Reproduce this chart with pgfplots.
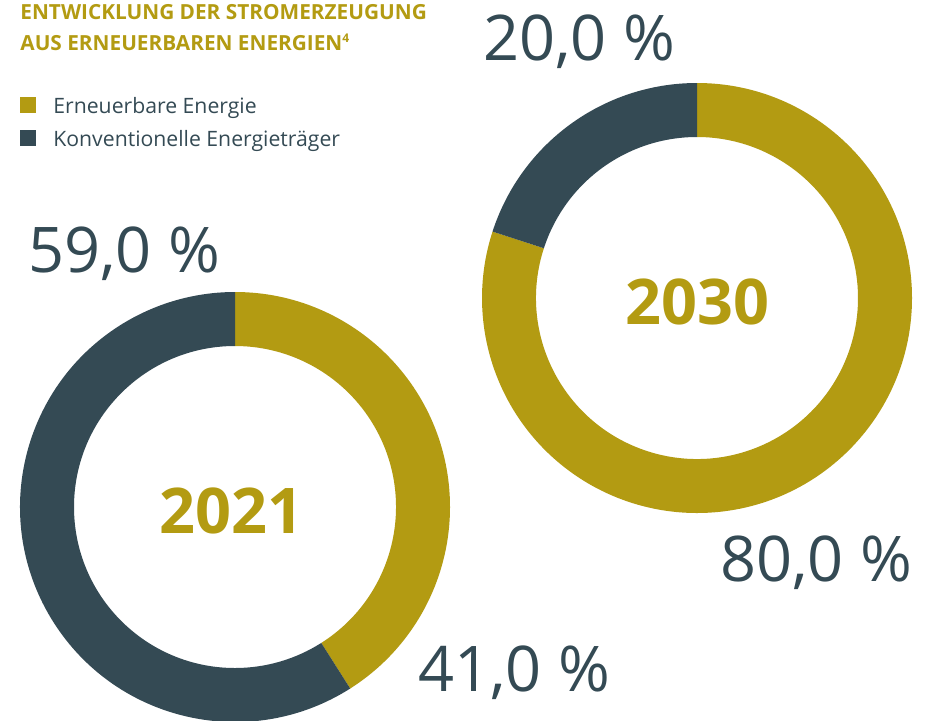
\documentclass[border=0pt]{standalone}
\usepackage{pgfplots}
\pgfplotsset{compat=1.18}
\usepackage{pgfplotstable}
\usepackage{fontspec}
\setmainfont{Open Sans}
\usetikzlibrary{calc}
\definecolor{gold}{HTML}{B39B12}
\definecolor{slate}{HTML}{344A54}

\pgfplotstableread{
year cx cy renew conv
2021 235 213 41 59
2030 697 422 80 20
}\donuts

\pgfplotstablegetelem{0}{cx}\of\donuts \edef\cxA{\pgfplotsretval}
\pgfplotstablegetelem{0}{cy}\of\donuts \edef\cyA{\pgfplotsretval}
\pgfplotstablegetelem{0}{renew}\of\donuts \edef\rnA{\pgfplotsretval}
\pgfplotstablegetelem{1}{cx}\of\donuts \edef\cxB{\pgfplotsretval}
\pgfplotstablegetelem{1}{cy}\of\donuts \edef\cyB{\pgfplotsretval}
\pgfplotstablegetelem{1}{renew}\of\donuts \edef\rnB{\pgfplotsretval}

% sector: cx, cy, start angle, end angle, colour
\newcommand\sector[5]{%
  \fill[#5] ($(axis cs:#1,#2)+({#3}:107.5pt)$)
    arc[start angle={#3}, end angle={#4}, radius=107.5pt]
    -- ($(axis cs:#1,#2)+({#4}:80.5pt)$)
    arc[start angle={#4}, end angle={#3}, radius=80.5pt] -- cycle;}

\begin{document}
\begin{tikzpicture}
\begin{axis}[
  x=0.5pt, y=0.5pt,
  xmin=0, xmax=935, ymin=0, ymax=720,
  hide axis, clip=false,
]
\path[use as bounding box] (axis cs:0,0) rectangle (axis cs:935,720);
% 2021
\sector{\cxA}{\cyA}{90}{90-3.6*\rnA}{gold}
\sector{\cxA}{\cyA}{90-3.6*\rnA}{-270}{slate}
% 2030
\sector{\cxB}{\cyB}{90}{90-3.6*\rnB}{gold}
\sector{\cxB}{\cyB}{90-3.6*\rnB}{-270}{slate}

% title
\node[anchor=base west, inner sep=0, text=gold, font=\fontsize{10.4pt}{12pt}\selectfont\bfseries]
  at (axis cs:20,701) {ENTWICKLUNG DER STROMERZEUGUNG};
\node[anchor=base west, inner sep=0, text=gold, font=\fontsize{10.4pt}{12pt}\selectfont\bfseries]
  at (axis cs:20,670) {AUS ERNEUERBAREN ENERGIEN\textsuperscript{\fontsize{6pt}{7pt}\selectfont 4}};

% legend
\fill[gold] (axis cs:20,607) rectangle (axis cs:36,623);
\fill[slate] (axis cs:20,574) rectangle (axis cs:36,590);
\node[anchor=base west, inner sep=0, text=slate, font=\fontsize{10.6pt}{12pt}\selectfont]
  at (axis cs:53,607) {Erneuerbare Energie};
\node[anchor=base west, inner sep=0, text=slate, font=\fontsize{10.6pt}{12pt}\selectfont]
  at (axis cs:53,574) {Konventionelle Energieträger};

% percentage labels
\node[anchor=base west, inner sep=0, text=slate, font=\fontsize{31.5pt}{36pt}\selectfont]
  at (axis cs:483,660) {20,0 \%};
\node[anchor=base west, inner sep=0, text=slate, font=\fontsize{31.5pt}{36pt}\selectfont]
  at (axis cs:28,448) {59,0 \%};
\node[anchor=base west, inner sep=0, text=slate, font=\fontsize{31.5pt}{36pt}\selectfont]
  at (axis cs:720,139) {80,0 \%};
\node[anchor=base west, inner sep=0, text=slate, font=\fontsize{31.5pt}{36pt}\selectfont]
  at (axis cs:418,29) {41,0 \%};

% years
\node[anchor=base, inner sep=0, text=gold, font=\fontsize{31.5pt}{38pt}\selectfont\bfseries]
  at (axis cs:231,187) {2021};
\node[anchor=base, inner sep=0, text=gold, font=\fontsize{31.5pt}{38pt}\selectfont\bfseries]
  at (axis cs:697,396) {2030};
\end{axis}
\end{tikzpicture}
\end{document}
